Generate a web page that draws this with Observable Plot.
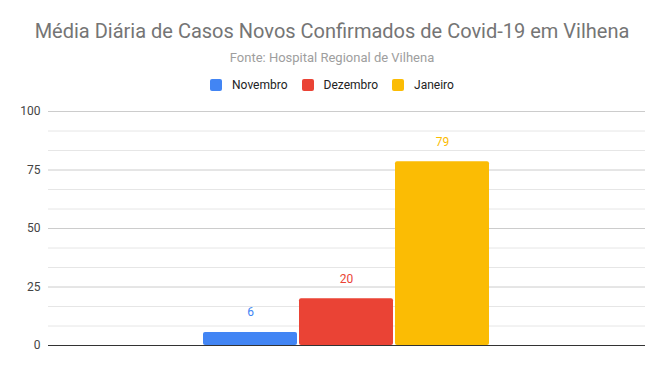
<!DOCTYPE html>
<html>
<head>
<meta charset="utf-8">
<script src="https://cdn.jsdelivr.net/npm/d3@7"></script>
<script src="https://cdn.jsdelivr.net/npm/@observablehq/plot@0.6"></script>
<style>
  html, body { margin: 0; padding: 0; background: #fff; }
  body { width: 664px; height: 371px; overflow: hidden; font-family: Roboto, "Noto Sans", sans-serif; }
  #title { position: absolute; left: 0; width: 664px; top: 18px; text-align: center; font-size: 20px; color: #757575; line-height: 26px; }
  #subtitle { position: absolute; left: 0; width: 664px; top: 49px; text-align: center; font-size: 13px; color: #9e9e9e; line-height: 18px; }
  #legend { position: absolute; left: 0; width: 664px; top: 77px; display: flex; justify-content: center; font-size: 12px; color: #222; line-height: 16px; }
  .item { display: flex; align-items: center; margin: 0 7px; }
  .sw { width: 12px; height: 12px; border-radius: 2px; margin-right: 10px; }
  #chart { position: absolute; left: 0; top: 100px; }
</style>
</head>
<body>
<div id="title"></div>
<div id="subtitle"></div>
<div id="legend"></div>
<div id="chart"></div>
<script>
const titleText = "Média Diária de Casos Novos Confirmados de Covid-19 em Vilhena";
const subtitleText = "Fonte: Hospital Regional de Vilhena";
const months = ["Novembro", "Dezembro", "Janeiro"];
const values = [5.6, 20.0, 78.5];
const colors = ["#4285F4", "#EA4335", "#FBBC04"];
const yTicks = [0, 25, 50, 75, 100];
const yMinorTicks = [25/3, 50/3, 100/3, 125/3, 175/3, 200/3, 250/3, 275/3];

document.getElementById("title").textContent = titleText;
document.getElementById("subtitle").textContent = subtitleText;
const legend = document.getElementById("legend");
months.forEach((m, i) => {
  const it = document.createElement("div");
  it.className = "item";
  const sw = document.createElement("div");
  sw.className = "sw";
  sw.style.background = colors[i];
  it.appendChild(sw);
  const t = document.createElement("span");
  t.textContent = m;
  it.appendChild(t);
  legend.appendChild(it);
});

const data = months.map((m, i) => ({month: m, value: values[i], color: colors[i], label: d3.format(".0f")(values[i])}));

const chart = Plot.plot({
  width: 664,
  height: 271,
  marginLeft: 48,
  marginRight: 19,
  marginTop: 11,
  marginBottom: 26,
  style: {fontFamily: "Roboto, 'Noto Sans', sans-serif", fontSize: "12px", background: "transparent"},
  x: {domain: months, paddingInner: 0.02, paddingOuter: 1.6, axis: null},
  y: {domain: [0, 100], ticks: yTicks, tickSize: 0, tickPadding: 8, label: null},
  marks: [
    Plot.ruleY(yMinorTicks, {stroke: "#e6e6e6", strokeWidth: 1}),
    Plot.ruleY(yTicks.filter(d => d > 0), {stroke: "#cccccc", strokeWidth: 1}),
    Plot.axisY({ticks: yTicks, tickSize: 0, tickPadding: 8, label: null, color: "#444", fontSize: 12}),
    Plot.barY(data, {x: "month", y: "value", fill: d => d.color, rx: 2}),
    Plot.ruleY([0], {stroke: "#333", strokeWidth: 1}),
    Plot.text(data, {x: "month", y: "value", text: "label", fill: d => d.color, dy: -20, fontSize: 12})
  ]
});
document.getElementById("chart").appendChild(chart);
</script>
</body>
</html>
